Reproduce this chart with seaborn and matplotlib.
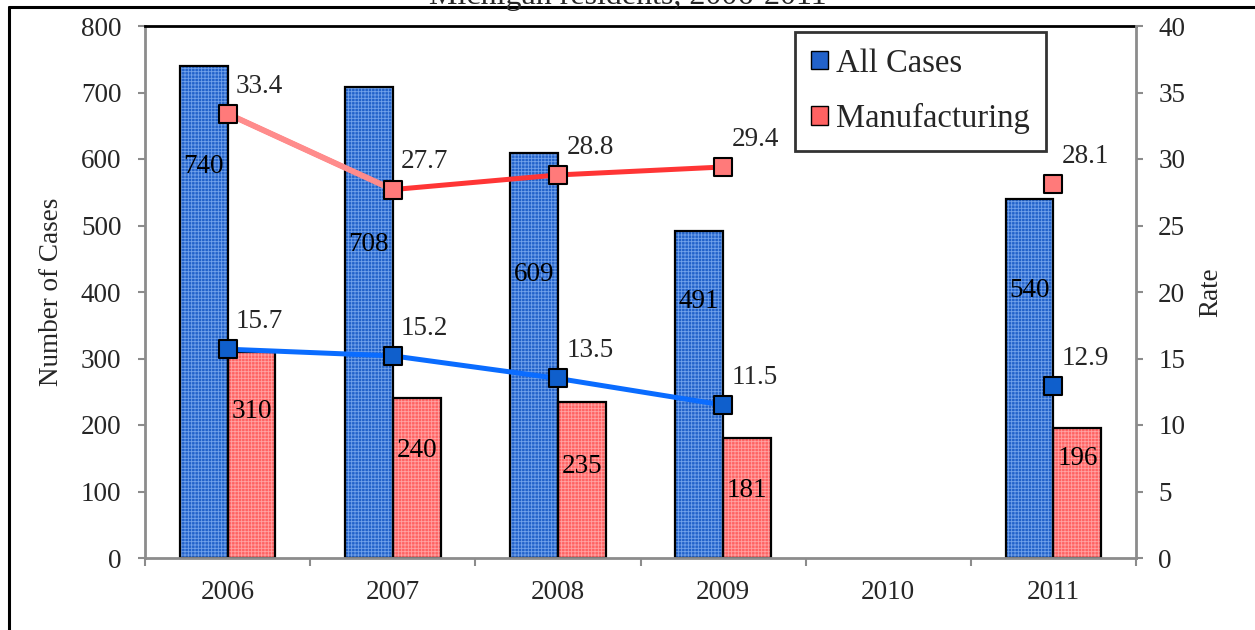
import numpy as np
import pandas as pd
import matplotlib
matplotlib.use("Agg")
import matplotlib.pyplot as plt
import seaborn as sns
from matplotlib.lines import Line2D
from matplotlib.patches import Patch, Rectangle

# ---------------- data ----------------
years = ["2006", "2007", "2008", "2009", "2010", "2011"]
series_names = ["All Cases", "Manufacturing"]
all_cases = [740, 708, 609, 491, np.nan, 540]
manufacturing = [310, 240, 235, 181, np.nan, 196]
all_rate = [15.7, 15.2, 13.5, 11.5, np.nan, 12.9]
mfg_rate = [33.4, 27.7, 28.8, 29.4, np.nan, 28.1]
title = "Michigan residents, 2006-2011"
left_label = "Number of Cases"
right_label = "Rate"

# ---------------- style ----------------
all_label_y = [588, 471, 426, 385, None, 403]   # label heights (cases units)
mfg_label_y = [220, 162, 138, 102, None, 150]
BLUE_FILL, BLUE_HATCH = "#2262CA", "#72A2EA"
RED_FILL, RED_HATCH = "#FF6262", "#FFA3A3"
BLUE_LINE, BLUE_MARK = "#0A6CFF", "#0F5FCC"
RED_LINE, RED_MARK, RED_FADED = "#FF3535", "#FF7A7A", "#FF8C8C"
GRAY = "#8C8C8C"
FS = 19.5

sns.set_style("white")
plt.rcParams["font.family"] = ["Liberation Serif", "DejaVu Serif"]
plt.rcParams["hatch.linewidth"] = 0.6

W, H = 1255, 630
fig = plt.figure(figsize=(W / 100, H / 100), dpi=100)
L, R, T, B = 145, 1136, 26, 558
ax = fig.add_axes([L / W, 1 - B / H, (R - L) / W, (B - T) / H])

# ---------------- bars ----------------
df = pd.DataFrame({
    "year": years * 2,
    "series": [series_names[0]] * len(years) + [series_names[1]] * len(years),
    "count": all_cases + manufacturing,
}).dropna()

sns.barplot(data=df, x="year", y="count", hue="series", order=years,
            hue_order=series_names, palette=[BLUE_FILL, RED_FILL],
            width=0.58, gap=0, saturation=1, legend=False, ax=ax,
            linewidth=0, err_kws={"linewidth": 0})

label_map = {series_names[0]: all_label_y, series_names[1]: mfg_label_y}
bars = list(ax.patches)
for p in bars:
    fc = matplotlib.colors.to_hex(p.get_facecolor())
    is_blue = fc.lower() == BLUE_FILL.lower()
    p.set_hatch("+++++")
    p.set_edgecolor(BLUE_HATCH if is_blue else RED_HATCH)
    p.set_linewidth(0)
    ax.add_patch(Rectangle(p.get_xy(), p.get_width(), p.get_height(),
                           fill=False, ec="black", lw=1.6, zorder=p.get_zorder() + 0.1))
    cx = p.get_x() + p.get_width() / 2
    idx = int(round(cx))
    ys = label_map[series_names[0] if is_blue else series_names[1]]
    ax.text(cx, ys[idx], f"{int(round(p.get_height()))}", ha="center", va="center",
            fontsize=FS, color="black", zorder=5)

ax.set_ylim(0, 800)
ax.set_yticks(range(0, 801, 100))
ax.set_xlim(-0.5, len(years) - 0.5)
ax.set_xlabel("")
ax.set_ylabel(left_label, fontsize=FS, labelpad=12)
ax.tick_params(axis="y", direction="out", length=5, width=1.5, color=GRAY,
               labelsize=FS, pad=12, left=True)
ax.set_xticks(range(len(years)))
ax.set_xticklabels(years)
ax.set_xticks(np.arange(-0.5, len(years)), minor=True)
ax.tick_params(axis="x", which="major", length=0, labelsize=FS, pad=16)
ax.tick_params(axis="x", which="minor", direction="out", length=6, width=1.5,
               color=GRAY, bottom=True)
for s in ["left", "bottom"]:
    ax.spines[s].set_color(GRAY)
    ax.spines[s].set_linewidth(2)
ax.spines["right"].set_visible(False)
ax.spines["top"].set_color("black")
ax.spines["top"].set_linewidth(2)

# ---------------- lines (rate axis) ----------------
ax2 = ax.twinx()
xs = np.arange(len(years))


def runs(vals):
    out, cur = [], []
    for i, v in enumerate(vals):
        if np.isnan(v):
            if cur:
                out.append(cur)
            cur = []
        else:
            cur.append(i)
    if cur:
        out.append(cur)
    return out


for vals, lc, mc in [(all_rate, BLUE_LINE, BLUE_MARK), (mfg_rate, RED_LINE, RED_MARK)]:
    v = np.array(vals, dtype=float)
    for r in runs(vals):
        if len(r) > 1:
            sns.lineplot(x=xs[r], y=v[r], ax=ax2, color=lc, lw=3.6, zorder=3)
    ok = ~np.isnan(v)
    sns.scatterplot(x=xs[ok], y=v[ok], ax=ax2, marker="s", s=150, color=mc,
                    edgecolor="black", linewidth=1.5, zorder=5)
    for xi, yi in zip(xs[ok], v[ok]):
        ax2.annotate(f"{yi}", (xi, yi), xytext=(6, 20), textcoords="offset points",
                     ha="left", va="center", fontsize=FS, zorder=6)

# faded first segment of manufacturing rate
mv = np.array(mfg_rate, dtype=float)
sns.lineplot(x=xs[:2], y=mv[:2], ax=ax2, color=RED_FADED, lw=4.2, zorder=4)

ax2.set_ylim(0, 40)
ax2.set_yticks(range(0, 41, 5))
ax2.set_xlim(-0.5, len(years) - 0.5)
ax2.set_ylabel(right_label, fontsize=FS, labelpad=9)
ax2.tick_params(axis="y", direction="out", length=5, width=1.5, color=GRAY,
                labelsize=FS, pad=11, right=True)
for s in ["top", "left", "bottom"]:
    ax2.spines[s].set_visible(False)
ax2.spines["right"].set_color(GRAY)
ax2.spines["right"].set_linewidth(2)

handles = [Patch(facecolor=BLUE_FILL, edgecolor="black", lw=1.0),
           Patch(facecolor=RED_FILL, edgecolor="black", lw=1.0)]
leg = ax2.legend(handles, series_names, loc="upper left",
                 bbox_to_anchor=(0.656, 0.989), fontsize=23.5, frameon=True,
                 fancybox=False, handlelength=0.5, handleheight=0.5,
                 handletextpad=0.25, labelspacing=0.75, borderpad=0.5,
                 borderaxespad=0)
leg.get_frame().set_edgecolor("black")
leg.get_frame().set_linewidth(2)
leg.set_zorder(10)

# ---------------- title and border ----------------
fig.text(0.5, 1 - 4 / H, title, ha="center", va="baseline", fontsize=23)
fig.add_artist(Line2D([9 / W, 9 / W], [0, 1 - 7 / H], transform=fig.transFigure,
                      color="black", lw=2.2))
fig.add_artist(Line2D([9 / W, 1], [1 - 7 / H, 1 - 7 / H], transform=fig.transFigure,
                      color="black", lw=2.2))

fig.savefig("out.png", dpi=100)
